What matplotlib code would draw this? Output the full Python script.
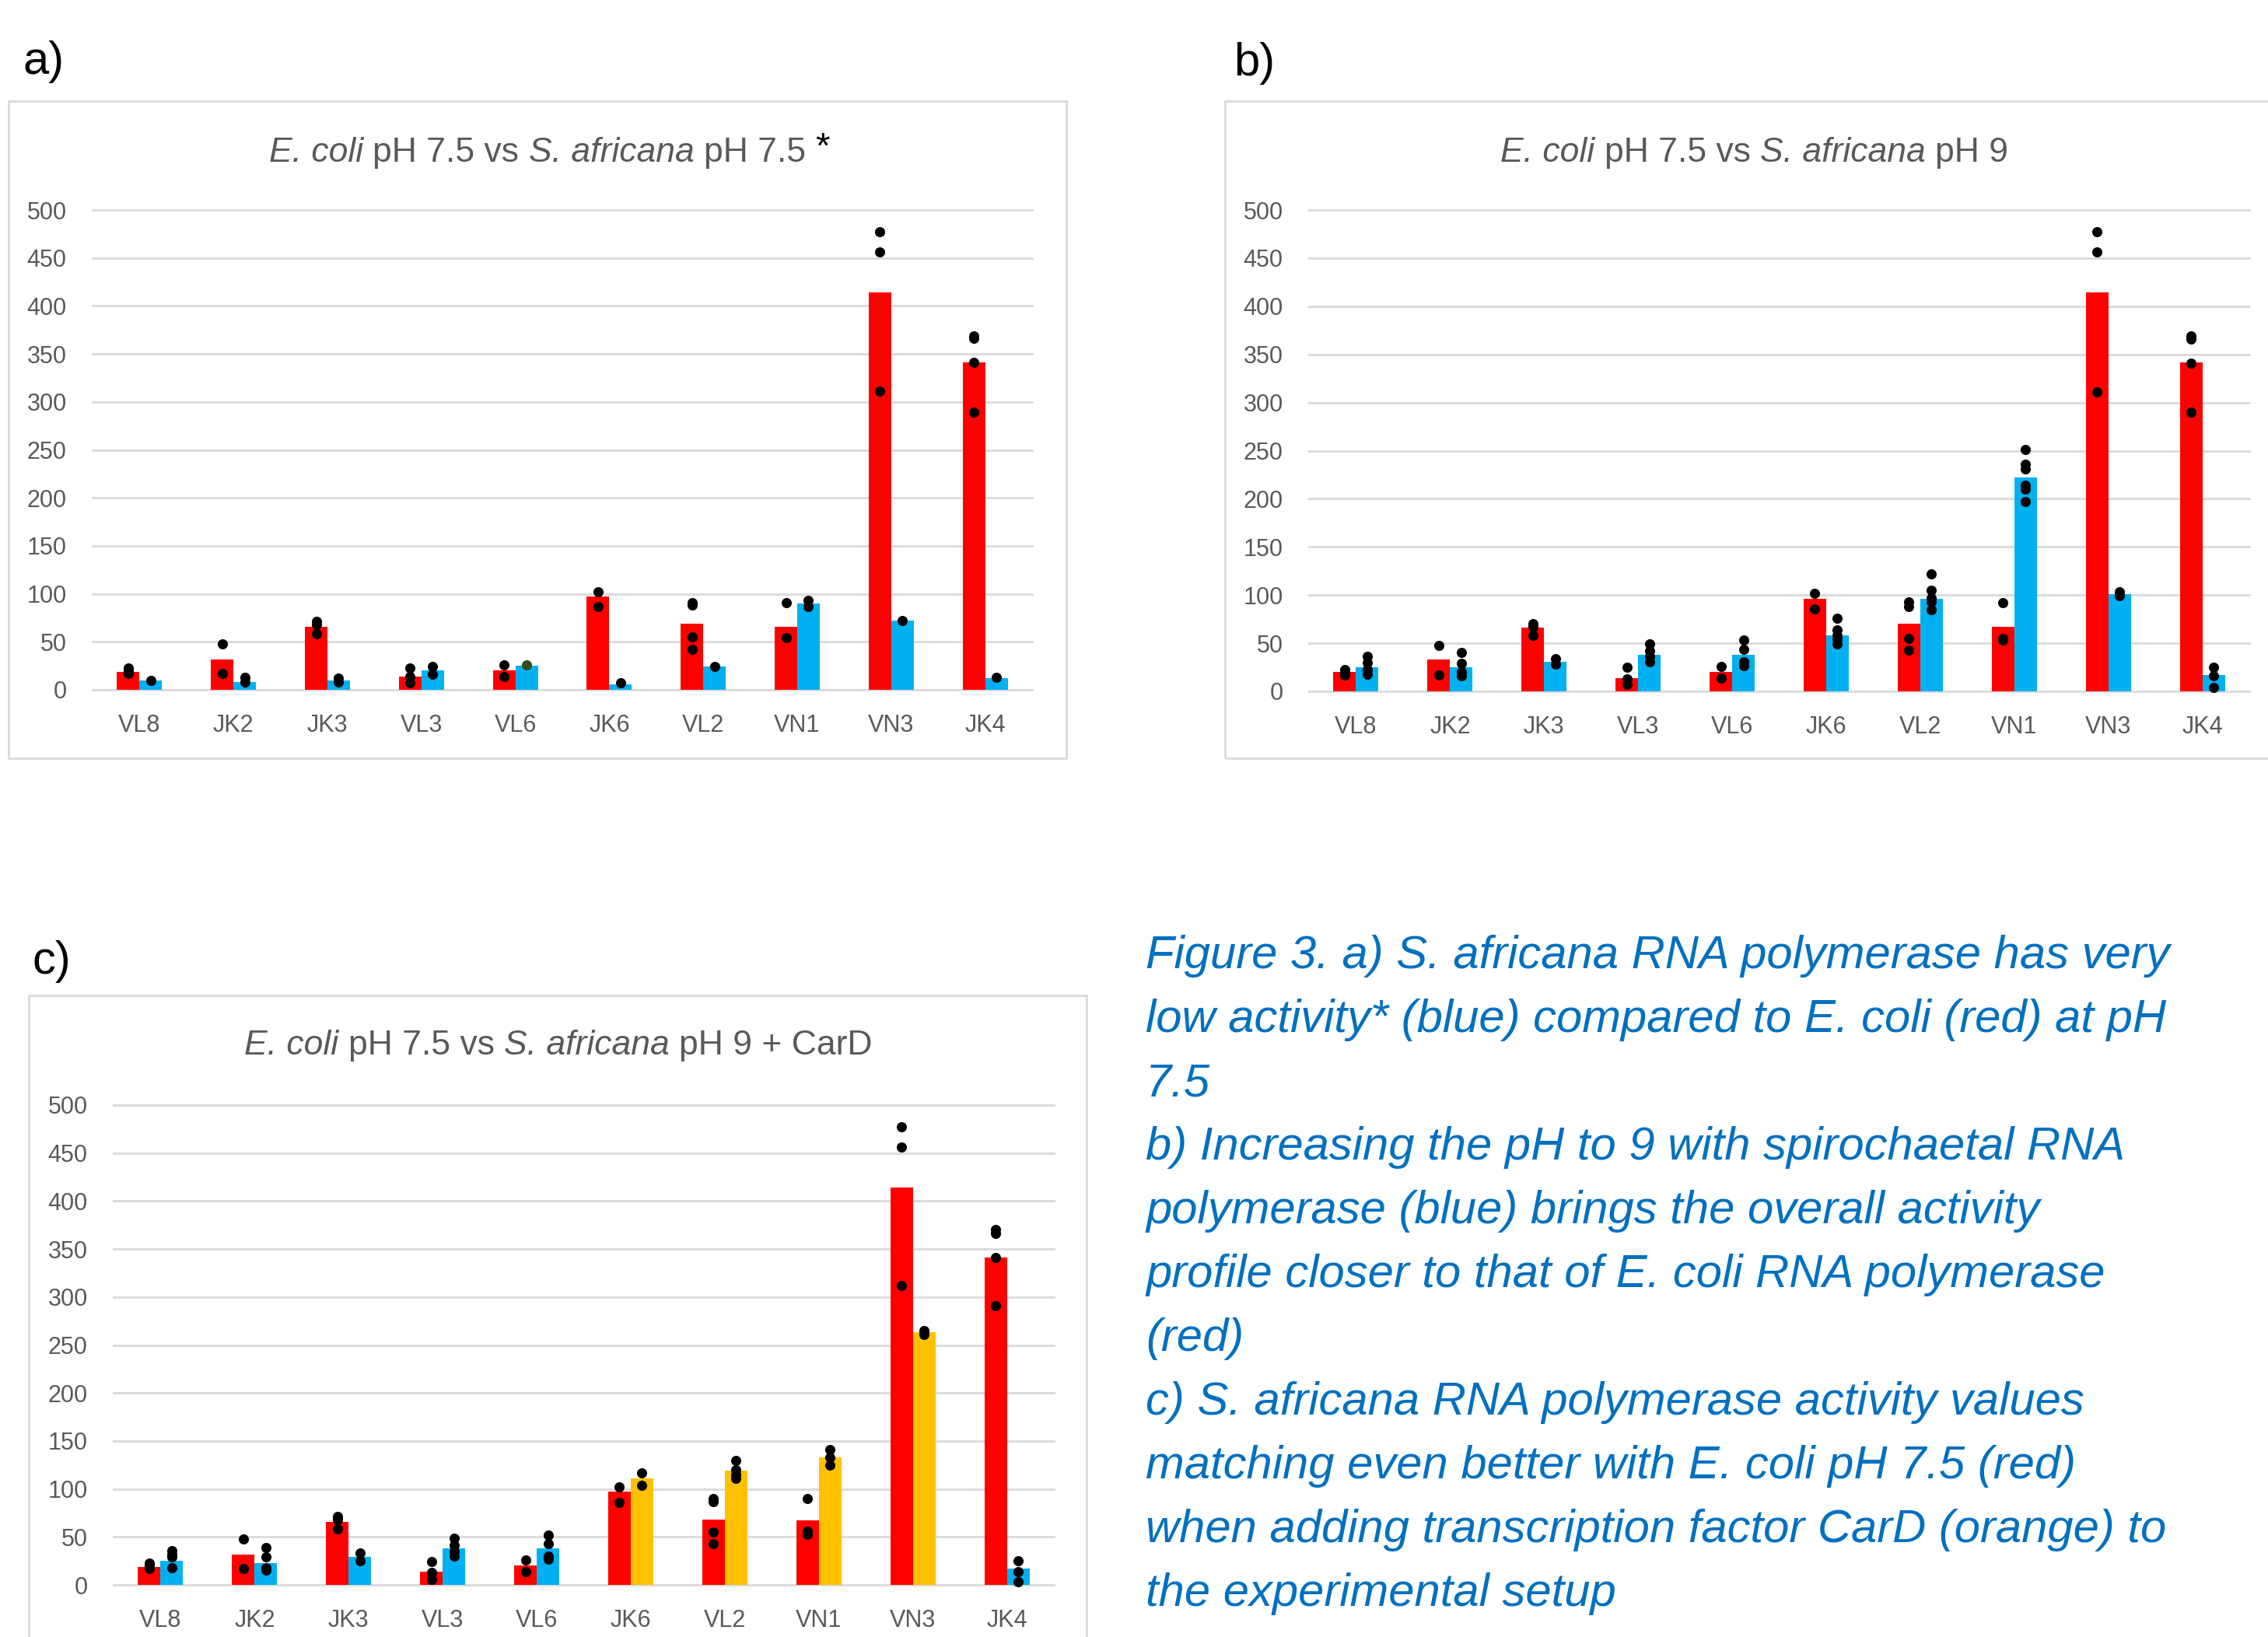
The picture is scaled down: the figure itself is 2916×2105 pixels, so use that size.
import matplotlib
matplotlib.use("Agg")
import matplotlib.pyplot as plt
from matplotlib.patches import Rectangle
import numpy as np

# ---------------- data ----------------
categories = ["VL8", "JK2", "JK3", "VL3", "VL6", "JK6", "VL2", "VN1", "VN3", "JK4"]

# panel a
ecoli_a = [19, 32, 66, 14, 20, 97, 69, 66, 414, 341]
ecoli_a_reps = [[23, 20, 17], [48, 17], [71, 68, 58], [23, 14, 7], [26, 14],
                [102, 87], [91, 88, 55, 42], [91, 54], [477, 456, 311], [369, 366, 341, 289]]
safr75 = [10, 8, 10, 20, 25, 6, 24, 90, 72, 12]
safr75_reps = [[10], [13, 8], [12, 8], [24, 16], [26], [7], [24], [93, 87], [72], [13]]

# panel b
ecoli_b = [20, 33, 66, 14, 20, 96, 70, 67, 414, 342]
ecoli_b_reps = [[23, 19, 17], [48, 17], [70, 67, 58], [25, 13, 7], [26, 14],
                [102, 86], [93, 88, 55, 43], [92, 55, 53], [477, 456, 311], [369, 366, 341, 290]]
safr9 = [25, 25, 31, 38, 38, 58, 96, 222, 101, 17]
safr9_reps = [[36, 30, 23, 18], [40, 29, 20, 16], [34, 28], [49, 42, 36, 31], [53, 44, 31, 27],
              [76, 64, 58, 54, 49], [122, 105, 97, 93, 85], [251, 236, 231, 214, 210, 197],
              [103, 99], [25, 16, 4]]

# panel c
ecoli_c = [18.5, 32, 66, 14, 20, 97, 68, 67, 414, 341]
ecoli_c_reps = [[23, 20, 17], [48, 17], [71, 68, 58], [24, 13, 6], [26, 14],
                [102, 86], [90, 87, 55, 43], [90, 56, 53], [477, 456, 312], [370, 366, 341, 291]]
safr9_card = [25, 23, 29, 38, 38, 111, 119, 133, 263, 17]
safr9_card_reps = [[36, 32, 29, 18], [39, 29, 18, 15], [33, 25], [49, 41, 35, 30], [52, 43, 30, 27],
                   [117, 104], [130, 120, 115, 111], [141, 133, 125], [265, 261], [25, 14, 3]]
card_added = [False, False, False, False, False, True, True, True, True, False]

yticks = [0, 50, 100, 150, 200, 250, 300, 350, 400, 450, 500]

caption_lines = [
    "Figure 3. a) S. africana RNA polymerase has very",
    "low activity* (blue) compared to E. coli (red) at pH",
    "7.5",
    "b) Increasing the pH to 9 with spirochaetal RNA",
    "polymerase (blue) brings the overall activity",
    "profile closer to that of E. coli RNA polymerase",
    "(red)",
    "c) S. africana RNA polymerase activity values",
    "matching even better with E. coli pH 7.5 (red)",
    "when adding transcription factor CarD (orange) to",
    "the experimental setup",
]

# ---------------- style ----------------
RED = "#FF0000"
BLUE = "#00B0F0"
ORANGE = "#FFC000"
GRID = "#D9D9D9"
TXT = "#595959"
CAPTION = "#0070C0"
FONT = ["Liberation Sans", "DejaVu Sans"]
plt.rcParams["font.family"] = FONT

W, H, DPI = 2916, 2105, 100
fig = plt.figure(figsize=(W / DPI, H / DPI), dpi=DPI)
fig.patch.set_facecolor("white")


def fx(px):
    return px / W


def fy(py):
    return 1 - py / H


def frame(x0, y0, x1, y1):
    fig.add_artist(Rectangle((fx(x0), fy(y1)), fx(x1) - fx(x0), fy(y0) - fy(y1),
                             transform=fig.transFigure, fill=False,
                             edgecolor=GRID, linewidth=2.0, clip_on=False))


def make_axes(left, right, top, bottom):
    ax = fig.add_axes([fx(left), fy(bottom), fx(right) - fx(left), fy(top) - fy(bottom)])
    ax.set_xlim(-0.5, len(categories) - 0.5)
    ax.set_ylim(0, 500)
    for s in ax.spines.values():
        s.set_visible(False)
    ax.set_yticks(yticks)
    ax.set_xticks(np.arange(len(categories)))
    ax.set_xticklabels(categories)
    ax.tick_params(axis="both", length=0, labelsize=22, colors=TXT)
    ax.tick_params(axis="x", pad=22)
    ax.tick_params(axis="y", pad=24)
    ax.yaxis.grid(True, color=GRID, linewidth=2.0)
    ax.set_axisbelow(True)
    ax.set_facecolor("none")
    for gl in ax.get_ygridlines():
        gl.set_clip_on(False)
    return ax


BW = 0.24
MS = 9.4


def draw_panel(ax, red_vals, red_reps, other_vals, other_reps, other_colors, dot_colors=None):
    x = np.arange(len(categories))
    ax.bar(x - BW / 2, red_vals, BW, color=RED, zorder=2)
    ax.bar(x + BW / 2, other_vals, BW, color=other_colors, zorder=2)
    for i in range(len(categories)):
        ys = red_reps[i]
        ax.plot([x[i] - BW / 2] * len(ys), ys, "o", color="black", markersize=MS,
                markeredgewidth=0, zorder=3, clip_on=False)
        ys = other_reps[i]
        c = "black" if dot_colors is None else dot_colors[i]
        ax.plot([x[i] + BW / 2] * len(ys), ys, "o", color=c, markersize=MS,
                markeredgewidth=0, zorder=3, clip_on=False)


renderer = fig.canvas.get_renderer()


def rich_title(xc, ybase, pieces, size=32):
    objs = []
    total = 0
    for txt, style in pieces:
        t = fig.text(0, fy(ybase), txt, fontsize=size, fontstyle=style, color=TXT,
                     va="baseline", ha="left", family=FONT)
        w = t.get_window_extent(renderer).width
        objs.append((t, w))
        total += w
    x = xc - total / 2
    for t, w in objs:
        t.set_x(fx(x))
        x += w
    return x


# panel frames
frame(11, 130, 1371, 975)
frame(1575, 130, 2940, 975)
frame(37, 1280, 1397, 2130)

# panel letters
fig.text(fx(30), fy(95), "a)", fontsize=43, color="black", va="baseline")
fig.text(fx(1586), fy(97), "b)", fontsize=43, color="black", va="baseline")
fig.text(fx(42), fy(1252), "c)", fontsize=43, color="black", va="baseline")

# panel a
axa = make_axes(119, 1327, 270, 887)
dot_a = ["black"] * 10
dot_a[4] = "#2F4F1A"
draw_panel(axa, ecoli_a, ecoli_a_reps, safr75, safr75_reps, BLUE, dot_a)
xend = rich_title(691, 208, [("E. coli ", "italic"), ("pH 7.5 vs ", "normal"),
                             ("S. africana ", "italic"), ("pH 7.5", "normal")])
fig.text(fx(xend + 12), fy(203), "*", fontsize=34, color="black", va="baseline")

# panel b
axb = make_axes(1683, 2892, 270, 889)
draw_panel(axb, ecoli_b, ecoli_b_reps, safr9, safr9_reps, BLUE)
rich_title(2256, 208, [("E. coli ", "italic"), ("pH 7.5 vs ", "normal"),
                       ("S. africana ", "italic"), ("pH 9", "normal")])

# panel c
axc = make_axes(146, 1355, 1421, 2038)
c_colors = [ORANGE if a else BLUE for a in card_added]
draw_panel(axc, ecoli_c, ecoli_c_reps, safr9_card, safr9_card_reps, c_colors)
rich_title(718, 1356, [("E. coli ", "italic"), ("pH 7.5 vs ", "normal"),
                       ("S. africana ", "italic"), ("pH 9 + CarD", "normal")])

# caption
for i, line in enumerate(caption_lines):
    fig.text(fx(1473), fy(1245 + 82 * i), line, fontsize=43, fontstyle="italic",
             color=CAPTION, va="baseline", ha="left")

fig.savefig("out.png", dpi=DPI, facecolor="white")
